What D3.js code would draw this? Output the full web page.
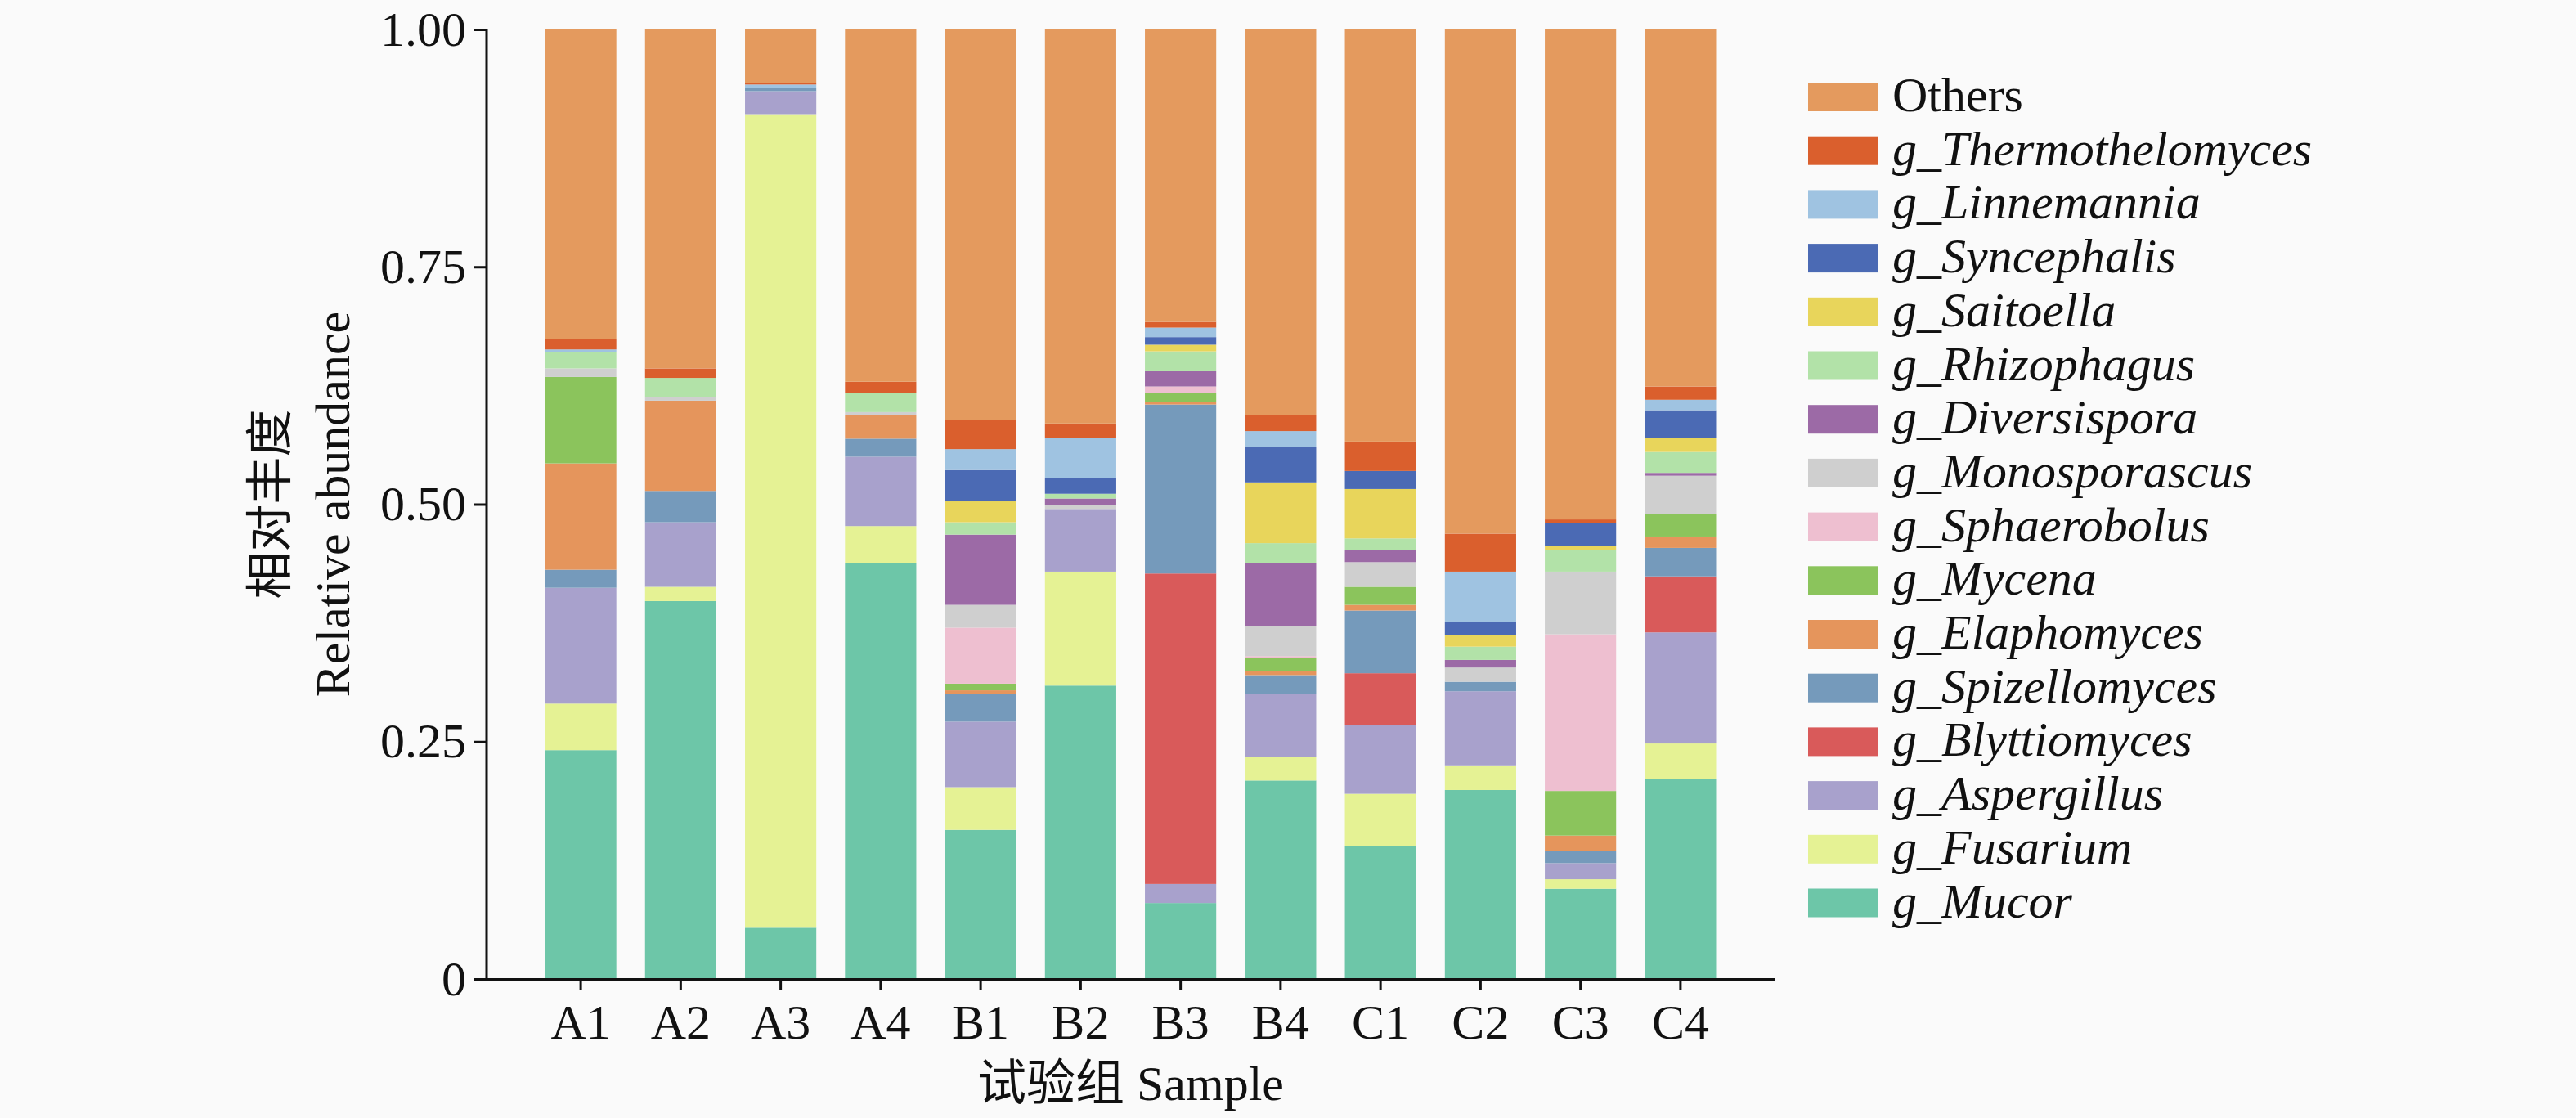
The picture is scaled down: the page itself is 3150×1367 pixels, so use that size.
<!DOCTYPE html>
<html>
<head>
<meta charset="utf-8">
<script src="https://cdn.jsdelivr.net/npm/d3@7"></script>
<style>
  html, body { margin: 0; padding: 0; background: #fafafa; }
  svg { display: block; }
</style>
</head>
<body>
<script>
// samples along the x axis
var samples = ['A1', 'A2', 'A3', 'A4', 'B1', 'B2', 'B3', 'B4', 'C1', 'C2', 'C3', 'C4'];

// genus abundances per sample (A1..C4), bottom of stack first
var mucor           = [0.241, 0.398, 0.054, 0.438, 0.157, 0.309, 0.080, 0.209, 0.140, 0.199, 0.095, 0.211];
var fusarium        = [0.049, 0.015, 0.856, 0.039, 0.045, 0.120, 0.000, 0.025, 0.055, 0.026, 0.010, 0.037];
var aspergillus     = [0.122, 0.068, 0.025, 0.073, 0.069, 0.066, 0.020, 0.066, 0.072, 0.078, 0.017, 0.117];
var blyttiomyces    = [0.000, 0.000, 0.000, 0.000, 0.000, 0.000, 0.327, 0.000, 0.055, 0.000, 0.000, 0.059];
var spizellomyces   = [0.019, 0.033, 0.003, 0.019, 0.029, 0.000, 0.178, 0.020, 0.066, 0.010, 0.013, 0.030];
var elaphomyces     = [0.112, 0.095, 0.000, 0.025, 0.004, 0.000, 0.003, 0.004, 0.006, 0.000, 0.016, 0.012];
var mycena          = [0.091, 0.000, 0.000, 0.000, 0.007, 0.000, 0.009, 0.014, 0.019, 0.000, 0.047, 0.024];
var sphaerobolus    = [0.000, 0.000, 0.000, 0.000, 0.059, 0.000, 0.007, 0.002, 0.000, 0.000, 0.165, 0.000];
var monosporascus   = [0.009, 0.004, 0.000, 0.003, 0.024, 0.004, 0.000, 0.032, 0.026, 0.015, 0.066, 0.040];
var diversispora    = [0.000, 0.000, 0.000, 0.000, 0.074, 0.007, 0.016, 0.066, 0.013, 0.008, 0.000, 0.003];
var rhizophagus     = [0.017, 0.020, 0.000, 0.020, 0.013, 0.005, 0.021, 0.021, 0.012, 0.014, 0.023, 0.022];
var saitoella       = [0.000, 0.000, 0.000, 0.000, 0.022, 0.000, 0.007, 0.064, 0.052, 0.012, 0.004, 0.015];
var syncephalis     = [0.000, 0.000, 0.000, 0.000, 0.033, 0.017, 0.008, 0.037, 0.019, 0.014, 0.024, 0.029];
var linnemannia     = [0.003, 0.000, 0.004, 0.000, 0.022, 0.042, 0.010, 0.017, 0.000, 0.053, 0.000, 0.011];
var thermothelomyces= [0.011, 0.010, 0.002, 0.012, 0.031, 0.015, 0.006, 0.017, 0.031, 0.040, 0.004, 0.014];
var others          = [0.326, 0.357, 0.056, 0.371, 0.411, 0.415, 0.308, 0.406, 0.434, 0.531, 0.516, 0.376];

// legend names, bottom of stack first
var genera = ['g_Mucor', 'g_Fusarium', 'g_Aspergillus', 'g_Blyttiomyces', 'g_Spizellomyces',
  'g_Elaphomyces', 'g_Mycena', 'g_Sphaerobolus', 'g_Monosporascus', 'g_Diversispora',
  'g_Rhizophagus', 'g_Saitoella', 'g_Syncephalis', 'g_Linnemannia', 'g_Thermothelomyces', 'Others'];
var series = [mucor, fusarium, aspergillus, blyttiomyces, spizellomyces, elaphomyces, mycena,
  sphaerobolus, monosporascus, diversispora, rhizophagus, saitoella, syncephalis, linnemannia,
  thermothelomyces, others];
var colors = ['#6dc6a8', '#e5f294', '#a8a1cc', '#d95a5a', '#759abb', '#e5955c', '#8bc45c',
  '#eebfd0', '#cfcfcf', '#9c6aa6', '#b2e2a8', '#e8d55b', '#4b6ab4', '#9fc3e1', '#da5f2d', '#e49a5e'];

var yTicks = [0, 0.25, 0.5, 0.75, 1];
var yTickLabels = ['0', '0.25', '0.50', '0.75', '1.00'];

// build rows for d3.stack
var table = samples.map(function (s, i) {
  var row = { sample: s };
  genera.forEach(function (g, j) { row[g] = series[j][i]; });
  return row;
});

var W = 3150, H = 1367;
var x0 = 595, x1 = 2170, yTop = 36, yBottom = 1197;
var serif = '"Liberation Serif", "Times New Roman", "Noto Sans CJK SC", serif';

var svg = d3.select('body').append('svg')
  .attr('width', W)
  .attr('height', H);

svg.append('rect').attr('width', W).attr('height', H).attr('fill', '#fafafa');

var x = d3.scaleBand()
  .domain(samples)
  .range([x0, x1])
  .paddingInner(0.287)
  .paddingOuter(0.585);

var y = d3.scaleLinear()
  .domain([0, 1])
  .range([yBottom, yTop]);

var color = d3.scaleOrdinal().domain(genera).range(colors);

var stacked = d3.stack().keys(genera)(table);

svg.append('g')
  .selectAll('g')
  .data(stacked)
  .join('g')
  .attr('fill', function (d) { return color(d.key); })
  .selectAll('rect')
  .data(function (d) { return d; })
  .join('rect')
  .attr('x', function (d) { return x(d.data.sample); })
  .attr('y', function (d) { return y(d[1]); })
  .attr('width', x.bandwidth())
  .attr('height', function (d) { return y(d[0]) - y(d[1]); });

// axes
var yAxis = svg.append('g')
  .attr('transform', 'translate(' + x0 + ',0)')
  .call(d3.axisLeft(y)
    .tickValues(yTicks)
    .tickFormat(function (d, i) { return yTickLabels[i]; })
    .tickSize(15)
    .tickPadding(10));

var xAxis = svg.append('g')
  .attr('transform', 'translate(0,' + yBottom + ')')
  .call(d3.axisBottom(x).tickSize(14).tickPadding(16).tickSizeOuter(0));

[yAxis, xAxis].forEach(function (a) {
  a.select('.domain').attr('stroke', '#111').attr('stroke-width', 3);
  a.selectAll('.tick line').attr('stroke', '#111').attr('stroke-width', 3);
  a.selectAll('.tick text')
    .attr('fill', '#111')
    .style('font-family', serif)
    .style('font-size', '60px');
});
yAxis.select('.domain').attr('d', 'M0,' + yTop + 'V' + yBottom);

// axis titles
svg.append('text')
  .attr('x', (x0 + x1) / 2)
  .attr('y', 1345)
  .attr('text-anchor', 'middle')
  .attr('fill', '#111')
  .style('font-family', serif)
  .style('font-size', '60px')
  .text('试验组 Sample');

var yTitle = svg.append('g')
  .attr('transform', 'translate(368,' + ((yTop + yBottom) / 2) + ') rotate(-90)');

yTitle.append('text')
  .attr('x', 0)
  .attr('y', -38)
  .attr('text-anchor', 'middle')
  .attr('dominant-baseline', 'central')
  .attr('fill', '#111')
  .style('font-family', serif)
  .style('font-size', '58px')
  .text('相对丰度');

yTitle.append('text')
  .attr('x', 0)
  .attr('y', 39)
  .attr('text-anchor', 'middle')
  .attr('dominant-baseline', 'central')
  .attr('fill', '#111')
  .style('font-family', serif)
  .style('font-size', '60px')
  .text('Relative abundance');

// legend, top item is Others
var legendItems = genera.slice().reverse();
var legend = svg.append('g')
  .selectAll('g')
  .data(legendItems)
  .join('g')
  .attr('transform', function (d, i) { return 'translate(2211,' + (118 + i * 65.7) + ')'; });

legend.append('rect')
  .attr('x', 0)
  .attr('y', -17)
  .attr('width', 85)
  .attr('height', 35)
  .attr('fill', function (d) { return color(d); });

legend.append('text')
  .attr('x', 103)
  .attr('y', 18)
  .attr('fill', '#111')
  .style('font-family', serif)
  .style('font-size', '60px')
  .style('font-style', function (d) { return d === 'Others' ? 'normal' : 'italic'; })
  .text(function (d) { return d; });
</script>
</body>
</html>
